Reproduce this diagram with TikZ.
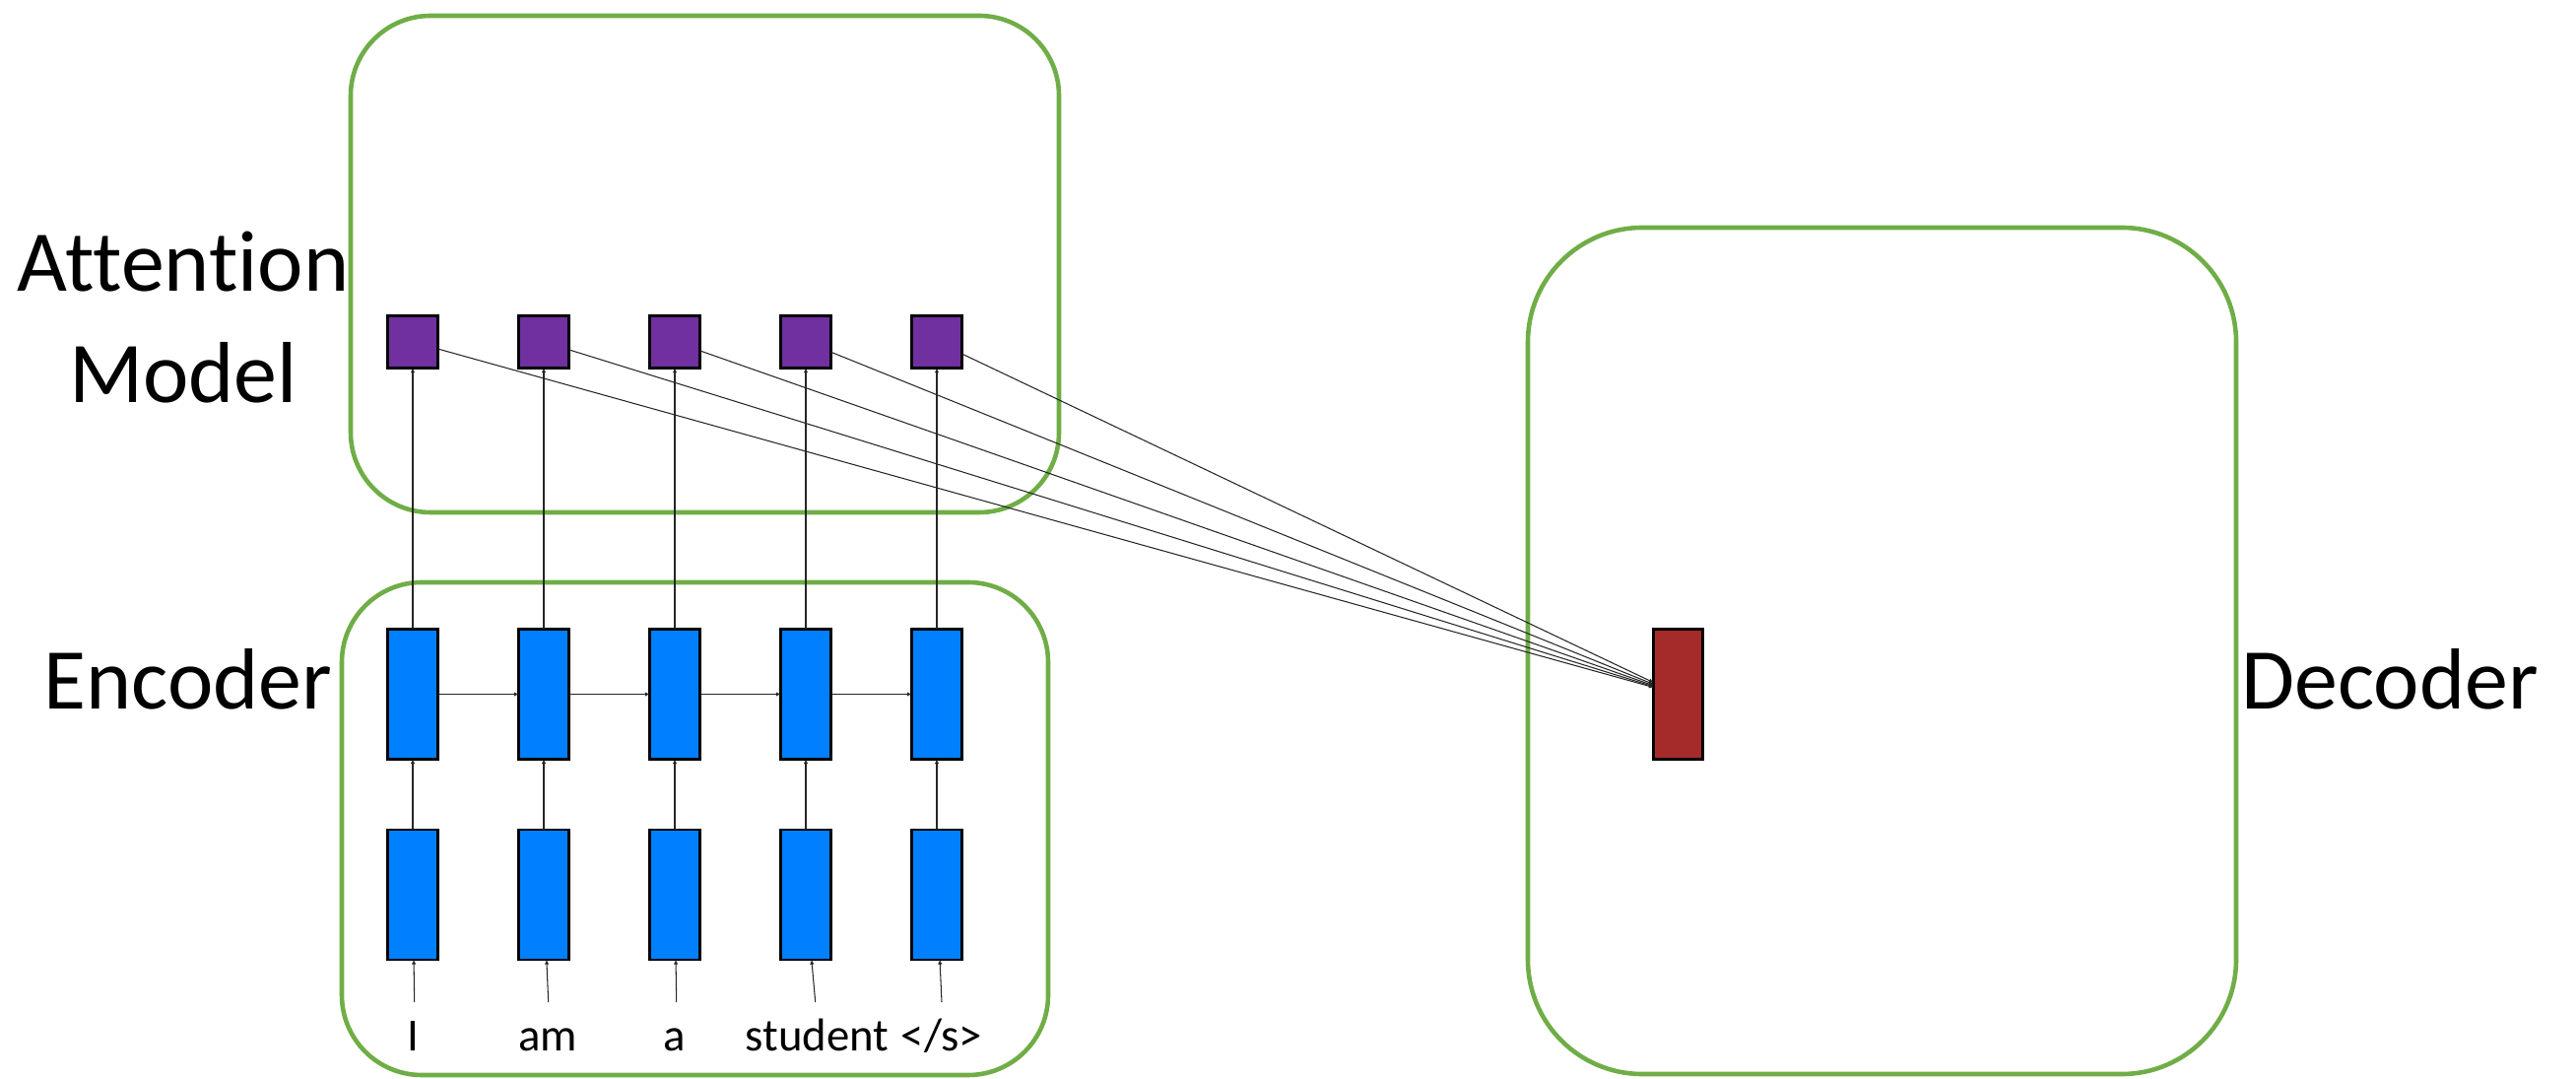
\documentclass[tikz,border=0pt]{standalone}
\usepackage{fontspec}
\setmainfont{Carlito}[Ligatures=NoCommon]
\usetikzlibrary{arrows.meta}
\definecolor{boxgreen}{RGB}{112,173,71}
\definecolor{attpurple}{RGB}{112,48,160}
\definecolor{encblue}{RGB}{0,128,255}
\definecolor{decred}{RGB}{165,42,42}
\begin{document}
\begin{tikzpicture}[x=0.01cm,y=-0.01cm,
  grbox/.style={draw=boxgreen, line width=1.3pt},
  cell/.style={draw=black, line width=0.76pt, inner sep=0pt, outer sep=0pt},
  attcell/.style={cell, fill=attpurple, minimum width=0.513cm, minimum height=0.533cm},
  enccell/.style={cell, fill=encblue, minimum width=0.513cm, minimum height=1.32cm},
  deccell/.style={cell, fill=decred, minimum width=0.50cm, minimum height=1.32cm},
  conn/.style={draw=black!85, line width=0.3pt, -{Latex[length=1.3pt,width=1.3pt]}},
  biglabel/.style={font=\fontsize{25}{32.4}\selectfont, inner sep=0pt},
  wordlabel/.style={font=\fontsize{13.3}{16}\selectfont, inner sep=0pt, anchor=base}
]
\path[use as bounding box] (0,0) rectangle (2615,1095);

% group boxes
\draw[grbox, rounded corners=0.81cm] (356,16) rectangle (1075,520);
\draw[grbox, rounded corners=0.81cm] (347,591) rectangle (1064,1091);
\draw[grbox, rounded corners=1.16cm] (1551,231) rectangle (2270,1090);

% labels
\node[biglabel, align=center, anchor=base] (attlbl) at (186,409) {Attention\\Model};
\node[biglabel, anchor=base] (enclbl) at (191,720) {Encoder};
\node[biglabel, anchor=base] (declbl) at (2426,720) {Decoder};

% cells
\foreach \i/\x in {1/419,2/552,3/685,4/818,5/951}{
  \node[attcell] (p\i) at (\x,347) {};
  \node[enccell] (b\i) at (\x,704.5) {};
  \node[enccell] (c\i) at (\x,908) {};
}
\node[deccell] (red) at (1703.5,704.5) {};

% words
\node[wordlabel] (t1) at (419.7,1066.7) {I};
\node[wordlabel] (t2) at (556,1066.7) {am};
\node[wordlabel] (t3) at (685,1066.7) {a};
\node[wordlabel] (t4) at (829.6,1066.7) {student};
\node[wordlabel] (t5) at (956,1066.7) {</s>};
\coordinate (w1) at (420.7,1017);
\coordinate (w2) at (556.7,1017);
\coordinate (w3) at (686.7,1017);
\coordinate (w4) at (827.7,1017);
\coordinate (w5) at (956,1017);

% connectors
\foreach \i in {1,...,5}{
  \draw[conn] (w\i) -- (c\i);
  \draw[conn] (c\i) -- (b\i);
  \draw[conn] (b\i) -- (p\i);
  \draw[conn] (p\i) -- (red);
}
\foreach \i/\j in {1/2,2/3,3/4,4/5}{
  \draw[conn] (b\i) -- (b\j);
}
\end{tikzpicture}
\end{document}
